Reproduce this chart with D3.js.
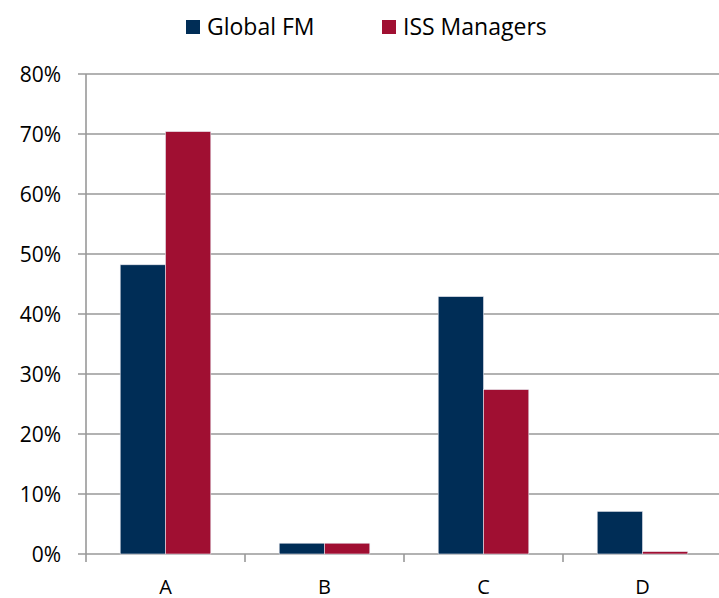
<!DOCTYPE html>
<html>
<head>
<meta charset="utf-8">
<script src="https://cdn.jsdelivr.net/npm/d3@7"></script>
<style>
  body { margin: 0; background: #fff; }
  text { font-family: "Open Sans", "Noto Sans", sans-serif; fill: #000; }
</style>
</head>
<body>
<script>
// chart data
var categories = ['A', 'B', 'C', 'D'];
var seriesNames = ['Global FM', 'ISS Managers'];
var globalFM = [48.2, 1.8, 42.9, 7.1];
var issManagers = [70.4, 1.8, 27.4, 0.4];
var yTicks = [0, 10, 20, 30, 40, 50, 60, 70, 80];
var colors = ['#002d56', '#a00f32'];

var width = 719,
    height = 598,
    margin = { top: 74, right: -3, bottom: 44, left: 86 };

var svg = d3.select('body').append('svg')
    .attr('width', width)
    .attr('height', height);

var innerW = width - margin.left - margin.right,
    innerH = height - margin.top - margin.bottom;

var xScale = d3.scaleBand().domain(categories).range([0, innerW]);
var xInner = d3.scaleBand().domain(seriesNames)
    .range([0, xScale.bandwidth()]).paddingOuter(0.755).paddingInner(0);
var yScale = d3.scaleLinear().domain([0, 80]).range([innerH, 0]);

var g = svg.append('g')
    .attr('transform', 'translate(' + margin.left + ',' + margin.top + ')');

// gridlines
g.selectAll('.grid')
  .data(yTicks)
  .enter().append('line')
  .attr('x1', -8)
  .attr('x2', innerW)
  .attr('y1', function(d) { return yScale(d); })
  .attr('y2', function(d) { return yScale(d); })
  .attr('stroke', '#999')
  .attr('stroke-width', 1.6);

// y axis line
g.append('line')
  .attr('x1', 0).attr('x2', 0)
  .attr('y1', 0).attr('y2', innerH)
  .attr('stroke', '#999')
  .attr('stroke-width', 1.6);

// y labels
g.selectAll('.ylab')
  .data(yTicks)
  .enter().append('text')
  .attr('x', -25)
  .attr('y', function(d) { return yScale(d); })
  .attr('dy', '0.36em')
  .attr('text-anchor', 'end')
  .style('font-size', '21px')
  .text(function(d) { return d + '%'; });

// x ticks at band edges
var edges = categories.map(function(c) { return xScale(c); }).concat([innerW]);
g.selectAll('.xtick')
  .data(edges)
  .enter().append('line')
  .attr('x1', function(d) { return d; })
  .attr('x2', function(d) { return d; })
  .attr('y1', innerH)
  .attr('y2', innerH + 8)
  .attr('stroke', '#999')
  .attr('stroke-width', 1.6);

// bars
var rows = categories.map(function(c, i) {
  return { cat: c, values: [globalFM[i], issManagers[i]] };
});

var groups = g.selectAll('.group')
  .data(rows)
  .enter().append('g')
  .attr('transform', function(d) { return 'translate(' + xScale(d.cat) + ',0)'; });

groups.selectAll('rect')
  .data(function(d) {
    return d.values.map(function(v, j) { return { name: seriesNames[j], value: v, color: colors[j] }; });
  })
  .enter().append('rect')
  .attr('x', function(d) { return xInner(d.name); })
  .attr('y', function(d) { return yScale(d.value); })
  .attr('width', xInner.bandwidth())
  .attr('height', function(d) { return innerH - yScale(d.value); })
  .attr('fill', function(d) { return d.color; })
  .attr('stroke', '#e6e6ee')
  .attr('stroke-width', 0.6);

// x labels
g.selectAll('.xlab')
  .data(categories)
  .enter().append('text')
  .attr('x', function(d) { return xScale(d) + xScale.bandwidth() / 2; })
  .attr('y', innerH + 33)
  .attr('dy', '0.36em')
  .attr('text-anchor', 'middle')
  .style('font-size', '20px')
  .text(function(d) { return d; });

// legend
var legendX = [186, 382];
var legend = svg.selectAll('.legend')
  .data(seriesNames)
  .enter().append('g')
  .attr('transform', function(d, i) { return 'translate(' + legendX[i] + ',20)'; });

legend.append('rect')
  .attr('width', 14)
  .attr('height', 14)
  .attr('fill', function(d, i) { return colors[i]; });

legend.append('text')
  .attr('x', 21)
  .attr('y', 7)
  .attr('dy', '0.36em')
  .style('font-size', '23px')
  .text(function(d) { return d; });
</script>
</body>
</html>
